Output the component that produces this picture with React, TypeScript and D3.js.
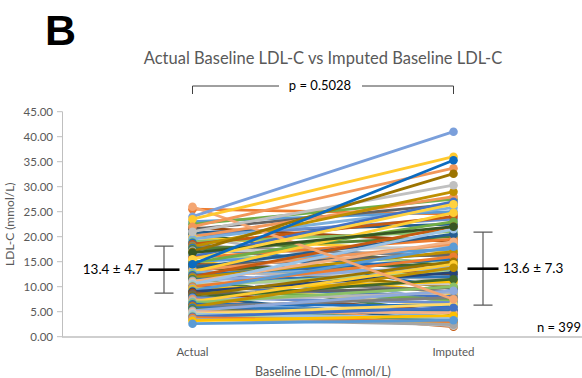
import * as d3 from 'd3';
import React from 'react';

const categories = ['Actual', 'Imputed'];
const yTicks = [0, 5, 10, 15, 20, 25, 30, 35, 40, 45];

// baseline LDL-C per patient (a visible subset)
const actual = [
  26.0, 25.5, 24.0, 23.5, 23.0, 22.5, 22.0, 21.8, 21.5, 21.0, 20.8, 20.5, 20.2, 20.0, 20.0,
  19.8, 19.5, 19.0, 18.8, 18.5, 18.2, 18.0, 17.8, 17.5, 17.2, 17.0, 17.0,
  16.8, 16.5, 16.2, 16.0, 15.8, 15.5, 15.2, 15.0, 14.8, 14.5, 14.5, 14.2, 14.0,
  13.8, 13.5, 13.5, 13.2, 13.0, 13.0, 12.8, 12.5, 12.3, 12.0, 12.0, 11.8, 11.5, 11.5, 11.2, 11.0,
  10.8, 10.5, 10.5, 10.2, 10.0, 10.0, 9.8, 9.5, 9.2, 9.0, 9.0, 8.8, 8.5, 8.2, 8.0,
  7.8, 7.8, 7.5, 7.2, 7.0, 7.0, 6.8, 6.5, 6.2, 6.0, 6.0, 5.8, 5.5, 5.2, 5.0,
  4.8, 4.5, 4.5, 4.2, 4.0, 3.8, 3.5, 3.2, 2.6,
];
const imputed = [
  7.5, 24.5, 41.0, 36.0, 25.0, 27.5, 33.7, 19.0, 26.5, 30.3, 22.5, 14.0, 23.5, 28.0, 12.0,
  17.0, 25.8, 21.0, 9.5, 24.0, 16.0, 29.0, 13.0, 20.0, 6.5, 32.6, 18.0,
  22.0, 11.0, 15.0, 27.0, 19.5, 26.5, 8.5, 17.5, 23.0, 35.3, 12.5, 16.5, 10.0,
  20.5, 14.5, 5.5, 18.5, 11.5, 24.8, 13.5, 7.0, 15.5, 22.0, 9.0, 17.0, 12.0, 4.5, 14.0, 19.0,
  10.5, 6.0, 21.5, 13.0, 8.0, 16.0, 3.5, 11.0, 18.0, 7.5, 12.8, 5.0, 9.8, 15.0, 3.0,
  11.5, 6.8, 2.5, 8.8, 14.5, 4.0, 10.0, 6.2, 2.0, 7.8, 13.8, 5.2, 3.2, 9.2, 4.8,
  2.2, 6.5, 3.8, 2.8, 5.8, 3.0, 2.4, 4.2, 3.3,
];

const means = [13.4, 13.6];
const sds = [4.7, 7.3];

const palette = [
  '#4472C4', '#ED7D31', '#A5A5A5', '#FFC000', '#5B9BD5', '#70AD47',
  '#264478', '#9E480E', '#636363', '#997300', '#255E91', '#43682B',
  '#698ED0', '#F1975A', '#B7B7B7', '#FFCD33', '#7CAFDD', '#8CC168',
  '#1F6FC0', '#C55A11', '#7F7F7F', '#BF9000', '#2E75B6', '#548235',
  '#8FAADC', '#F4B183', '#C9C9C9', '#FFD966', '#9DC3E6', '#A9D18E',
];
// colours of the lines that stand out in the picture, by row
const standout: Record<number, string> = {
  0: '#F4A672', 2: '#7A9FDB', 3: '#FFC92E', 6: '#F1975A', 9: '#C0C0C0',
  25: '#9C7400', 27: '#375623', 32: '#FFD23F', 36: '#0B6BC0',
};

const W = 582;
const H = 378;
const font = 'Lato, "Open Sans", sans-serif';
const grey = '#595959';

const App = () => {
  const x = d3.scalePoint<string>().domain(categories).range([62, 584]).padding(0.5);
  const y = d3.scaleLinear().domain([0, 45]).range([336.7, 111.7]);
  const line = d3.line<[number, number]>().x((d) => d[0]).y((d) => d[1]);

  const x0 = x('Actual')!;
  const x1 = x('Imputed')!;
  const errX = [164, 483];

  const order = actual.map((_, i) => i).sort((a, b) => (standout[a] ? 1 : 0) - (standout[b] ? 1 : 0));

  return (
    <svg width={W} height={H} style={{ position: 'absolute', left: 0, top: 0, background: '#fff' }}>
      <text x={45} y={45} fontFamily="Arial, 'Liberation Sans', sans-serif" fontWeight="bold" fontSize={43}>B</text>

      <text x={323} y={64} textAnchor="middle" fontFamily={font} fontSize={16.5} fill={grey}>
        Actual Baseline LDL-C vs Imputed Baseline LDL-C
      </text>

      {/* p-value bracket */}
      <path d={`M${x0},94V86H279M362,86H${x1}V94`} fill="none" stroke="#404040" strokeWidth={1} />
      <text x={320} y={90} textAnchor="middle" fontFamily={font} fontSize={13} fill="#000">p = 0.5028</text>

      {/* y axis */}
      <line x1={62.5} x2={62.5} y1={y(45)} y2={y(0)} stroke="#BFBFBF" strokeWidth={1} />
      {yTicks.map((t) => (
        <g key={t}>
          <line x1={57} x2={62.5} y1={y(t)} y2={y(t)} stroke="#BFBFBF" strokeWidth={1} />
          <text x={53} y={y(t) + 4} textAnchor="end" fontFamily={font} fontSize={11.5} fill={grey}>
            {t.toFixed(2)}
          </text>
        </g>
      ))}
      <text transform={`translate(14,${(y(0) + y(45)) / 2}) rotate(-90)`} textAnchor="middle" fontFamily={font} fontSize={12} fill={grey}>
        LDL-C (mmol/L)
      </text>

      {/* patient lines */}
      {order.map((i) => {
        const c = standout[i] ?? palette[i % palette.length];
        const a = actual[i];
        const b = imputed[i];
        return (
          <g key={i}>
            <path d={line([[x0, y(a)], [x1, y(b)]])!} stroke={c} strokeWidth={2.8} fill="none" strokeLinecap="round" />
            <circle cx={x0} cy={y(a)} r={4.3} fill={c} />
            <circle cx={x1} cy={y(b)} r={4.3} fill={c} />
          </g>
        );
      })}

      {/* x axis */}
      <line x1={62} x2={W} y1={337} y2={337} stroke="#BFBFBF" strokeWidth={1.5} />
      {categories.map((c) => (
        <text key={c} x={x(c)} y={356} textAnchor="middle" fontFamily={font} fontSize={11.5} fill={grey}>{c}</text>
      ))}
      <text x={323} y={376} textAnchor="middle" fontFamily={font} fontSize={12.5} fill={grey}>Baseline LDL-C (mmol/L)</text>

      {/* mean ± SD bars */}
      {means.map((m, i) => {
        const ex = errX[i];
        const hi = y(m + sds[i]);
        const lo = y(m - sds[i]);
        return (
          <g key={i}>
            <path d={`M${ex},${hi}V${lo}M${ex - 9.5},${hi}H${ex + 9.5}M${ex - 9.5},${lo}H${ex + 9.5}`} stroke={grey} strokeWidth={1.2} fill="none" />
            <line x1={ex - 15.5} x2={ex + 15.5} y1={y(m)} y2={y(m)} stroke="#000" strokeWidth={2.6} />
            <text
              x={i === 0 ? ex - 21 : ex + 20}
              y={y(m) + 4.5}
              textAnchor={i === 0 ? 'end' : 'start'}
              fontFamily={font}
              fontSize={13.5}
              fill="#000"
            >
              {`${m.toFixed(1)} ± ${sds[i].toFixed(1)}`}
            </text>
          </g>
        );
      })}

      <text x={581} y={332} textAnchor="end" fontFamily={font} fontSize={13} fill="#000">n = 399</text>
    </svg>
  );
};

export default App;
